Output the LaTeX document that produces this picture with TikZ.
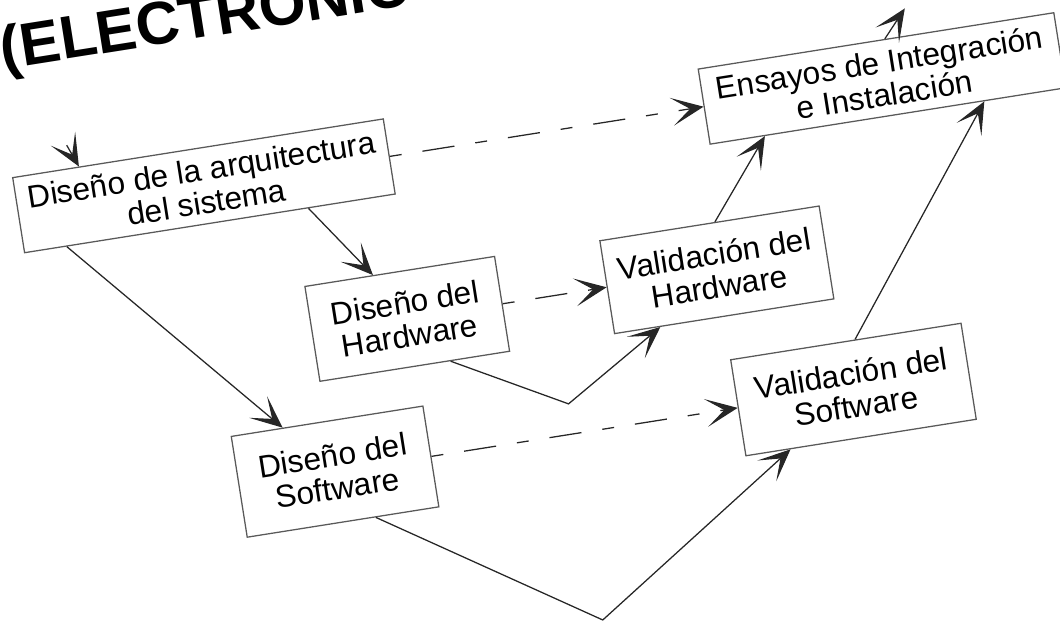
\documentclass[tikz,border=0pt]{standalone}
\usepackage{fontspec}
\setmainfont{Liberation Sans}
\usepackage{tikz}
\usetikzlibrary{arrows.meta,positioning,calc}

\begin{document}
\begin{tikzpicture}[
    box/.style={rectangle, draw=black!65, line width=0.9pt, align=center, inner sep=2pt, font=\fontsize{22.5}{23.5}\selectfont},
    flow/.style={-{Stealth[length=8mm, width=7mm, inset=4.6mm]}, draw=black!85, line width=0.9pt},
    link/.style={flow, dash pattern=on 8.5pt off 15pt on 23pt off 15pt}
]
    \useasboundingbox (0,0) rectangle (26.5,15.7);
    \clip (0,0) rectangle (26.5,15.7);

    \begin{scope}[shift={(13.25,7.85)}, rotate=9, transform shape]
    % Title
    \node (title) [anchor=base west, inner sep=0pt, font=\fontsize{43}{43}\selectfont\bfseries] at (-12.05,8.1) {(ELECTRONIC};

    % Nodes
    \node (arch) [box, minimum width=9.38cm, minimum height=1.9cm] at (-7.55,4.44) {Diseño de la arquitectura\\del sistema};
    \node (integ) [box, minimum width=9.0cm, minimum height=1.9cm, right=7.94cm of arch] {Ensayos de Integración\\e Instalación};

    \node (hwdesign) [box, minimum width=4.8cm, minimum height=2.4cm] at (-3.05,0.36) {Diseño del\\Hardware};
    \node (hwvalid) [box, minimum width=5.55cm, minimum height=2.35cm, right=2.63cm of hwdesign] {Validación del\\Hardware};

    \node (swdesign) [box, minimum width=4.85cm, minimum height=2.55cm] at (-5.43,-3.13) {Diseño del\\Software};
    \node (swvalid) [box, minimum width=5.83cm, minimum height=2.43cm, right=7.75cm of swdesign] {Validación del\\Software};

    \coordinate (entry) at (-10.78,5.98);
    \coordinate (exit) at (10.45,6.08);
    \coordinate (hwlow) at (0.6,-2.37);
    \coordinate (swlow) at (0.6,-7.84);

    % Edges
    \draw[flow] (entry) -- ($(arch.north)!0.64!(arch.north west)$);
    \draw[flow] ($(arch.south)!0.53!(arch.south east)$) -- ($(hwdesign.north)!0.28!(hwdesign.north west)$);
    \draw[flow] ($(arch.south)!0.77!(arch.south west)$) -- ($(swdesign.north)!0.46!(swdesign.north west)$);

    \draw[link] (arch.east) -- (integ.west);
    \draw[link] (hwdesign.east) -- (hwvalid.west);
    \draw[link] (swdesign.east) -- (swvalid.west);

    \draw[flow] ($(hwdesign.south)!0.375!(hwdesign.south east)$) -- (hwlow) -- ($(hwvalid.south)!0.58!(hwvalid.south west)$);
    \draw[flow] ($(swdesign.south)!0.34!(swdesign.south east)$) -- (swlow) -- ($(swvalid.south)!0.61!(swvalid.south west)$);

    \draw[flow] ($(hwvalid.north)!0.05!(hwvalid.north east)$) -- ($(integ.south)!0.69!(integ.south west)$);
    \draw[flow] ($(swvalid.north)!0.08!(swvalid.north east)$) -- ($(integ.south)!0.54!(integ.south east)$);
    \draw[flow] ($(integ.north)!0.05!(integ.north east)$) -- (exit);
    \end{scope}
\end{tikzpicture}
\end{document}
